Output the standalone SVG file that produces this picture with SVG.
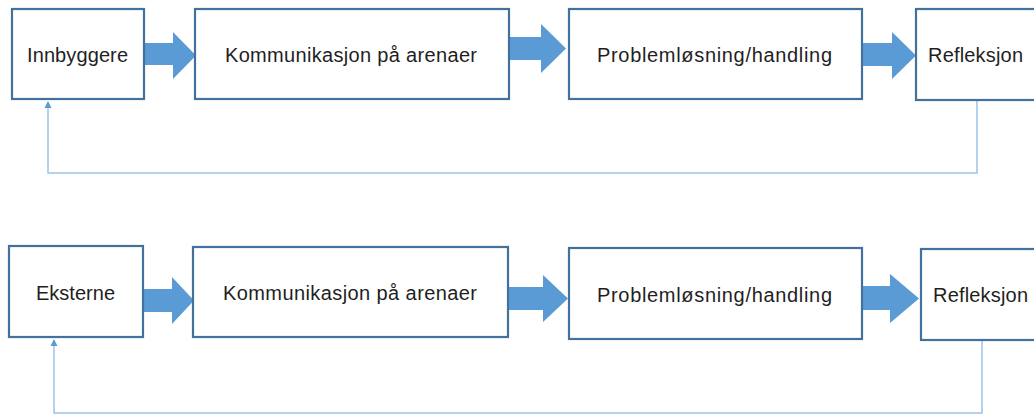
<svg xmlns="http://www.w3.org/2000/svg" width="1034" height="416" viewBox="0 0 1034 416">
<style>
.box{fill:#ffffff;stroke:#41719c;stroke-width:2.2}
.arr{fill:#5b9bd5}
.fb{fill:none;stroke:#9dc3e6;stroke-width:1.5}
.t{font-family:"Liberation Sans",Arial,sans-serif;font-size:20px;fill:#1f1f1f}
</style>
<defs>
<marker id="ah" markerWidth="8" markerHeight="8" refX="4" refY="4" orient="auto" markerUnits="userSpaceOnUse">
<path d="M0,0.5 L7,4 L0,7.5 Z" fill="#5b9bd5"/>
</marker>
</defs>
<rect width="1034" height="416" fill="#ffffff"/>
<g id="connectors">
<polygon class="arr" points="144,43 173,43 173,32 196,55.5 173,79 173,65 144,65"/>
<polygon class="arr" points="509,37 541,37 541,24 566,48.5 541,73 541,60 509,60"/>
<polygon class="arr" points="862,43 892,43 892,32 916,55.5 892,79 892,66 862,66"/>
<polygon class="arr" points="143,289 172,289 172,277 194,300.5 172,324 172,312 143,312"/>
<polygon class="arr" points="508,287 543,287 543,275 568,298.5 543,322 543,310 508,310"/>
<polygon class="arr" points="862,286 890,286 890,274 919,298.5 890,323 890,310 862,310"/>
<path class="fb" d="M977,101 V173 H48 V104" marker-end="url(#ah)"/>
<path class="fb" d="M982,341 V413 H54 V342" marker-end="url(#ah)"/>
</g>
<g id="n1"><rect class="box" x="12" y="9" width="132" height="90"/><text class="t" x="27" y="62" textLength="101" lengthAdjust="spacing">Innbyggere</text></g>
<g id="n2"><rect class="box" x="195" y="9" width="314" height="90"/><text class="t" x="225" y="62" textLength="252" lengthAdjust="spacing">Kommunikasjon på arenaer</text></g>
<g id="n3"><rect class="box" x="569" y="9" width="293" height="90"/><text class="t" x="597" y="62" textLength="235" lengthAdjust="spacing">Problemløsning/handling</text></g>
<g id="n4"><rect class="box" x="916" y="9" width="130" height="91"/><text class="t" x="928" y="62" textLength="95" lengthAdjust="spacing">Refleksjon</text></g>
<g id="n5"><rect class="box" x="9" y="246" width="134" height="91"/><text class="t" x="36" y="300" textLength="79" lengthAdjust="spacing">Eksterne</text></g>
<g id="n6"><rect class="box" x="193" y="247" width="315" height="90"/><text class="t" x="223" y="300" textLength="254" lengthAdjust="spacing">Kommunikasjon på arenaer</text></g>
<g id="n7"><rect class="box" x="569" y="248" width="293" height="91"/><text class="t" x="597" y="302" textLength="235" lengthAdjust="spacing">Problemløsning/handling</text></g>
<g id="n8"><rect class="box" x="921" y="249" width="125" height="91"/><text class="t" x="933" y="302" textLength="95" lengthAdjust="spacing">Refleksjon</text></g>
</svg>
